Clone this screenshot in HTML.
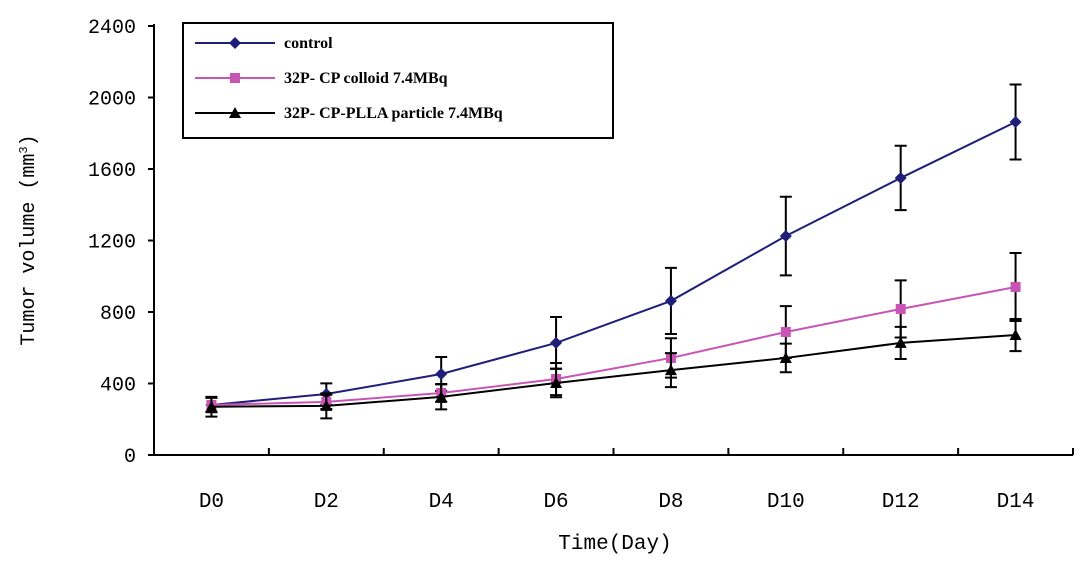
<!DOCTYPE html>
<html><head><meta charset="utf-8"><style>
body{margin:0;background:#fff}
svg text{font-family:"Liberation Mono","Noto Serif CJK SC",monospace;fill:#000}
svg text.lg{font-family:"Liberation Serif",serif;font-weight:bold}
</style></head><body>
<svg id="c" width="1087" height="567" xmlns="http://www.w3.org/2000/svg"></svg>
<script>
const categories=["D0","D2","D4","D6","D8","D10","D12","D14"];
const yTicks=[0,400,800,1200,1600,2000,2400];
const controlVals=[280,341,453,627,862,1225,1550,1863];
const controlErr=[40,60,95,145,185,220,180,210];
const colloidVals=[280,297,347,425,543,688,817,940];
const colloidErr=[40,40,50,90,110,145,160,190];
const plaVals=[270,275,325,403,475,543,627,671];
const plaErr=[55,70,70,80,95,80,90,90];
const NS="http://www.w3.org/2000/svg";
const svg=document.getElementById('c');
const X0=154,X1=1073,Y0=455,Ytop=26;
const bw=(X1-X0)/categories.length;
const xs=i=>X0+bw*(i+0.5);
const ys=v=>Y0-(v/2400)*(Y0-Ytop);
function mk(t,a,p){const e=document.createElementNS(NS,t);for(const k in a)e.setAttribute(k,a[k]);(p||svg).appendChild(e);return e;}
let ax=mk('line',{x1:X0,y1:Ytop-2,x2:X0,y2:Y0,stroke:'#000','stroke-width':2});


ax=mk('line',{x1:X0,y1:Y0,x2:X1,y2:Y0,stroke:'#000','stroke-width':2});


yTicks.forEach(v=>{
 mk('line',{x1:X0-6,y1:ys(v),x2:X0,y2:ys(v),stroke:'#000','stroke-width':2});
 const t=mk('text',{x:136,y:ys(v)+7,'text-anchor':'end','font-size':20});
 t.textContent=v;
 
 
});
for(let i=1;i<=categories.length;i++){mk('line',{x1:X0+bw*i,y1:Y0,x2:X0+bw*i,y2:Y0-7,stroke:'#000','stroke-width':2});}
categories.forEach((c,i)=>{
 const t=mk('text',{x:xs(i),y:507,'text-anchor':'middle','font-size':21});
 t.textContent=c;
 
 
});
let tt=mk('text',{x:615,y:549,'text-anchor':'middle','font-size':21});
tt.textContent='Time(Day)';


tt=mk('text',{x:0,y:0,'text-anchor':'middle','font-size':20,transform:'translate(34,240) rotate(-90)'});
tt.innerHTML='Tumor volume (mm<tspan baseline-shift="super" font-size="12">3</tspan>)';


function marker(kind,x,y,col,g){
 if(kind==='d')mk('polygon',{points:`${x},${y-6} ${x+6},${y} ${x},${y+6} ${x-6},${y}`,fill:col},g);
 else if(kind==='s')mk('rect',{x:x-5,y:y-5,width:10,height:10,fill:col},g);
 else mk('polygon',{points:`${x},${y-6} ${x+6},${y+5} ${x-6},${y+5}`,fill:col},g);
}
function series(vals,errs,col,kind,name){
 const g=mk('g',{});
 
 
 mk('polyline',{points:vals.map((v,i)=>xs(i)+','+ys(v)).join(' '),fill:'none',stroke:col,'stroke-width':2},g);
 vals.forEach((v,i)=>{
  const x=xs(i),a=ys(v+errs[i]),b=ys(v-errs[i]);
  mk('path',{d:`M${x},${a}V${b}M${x-6},${a}H${x+6}M${x-6},${b}H${x+6}`,stroke:'#000','stroke-width':2,fill:'none'},g);
  marker(kind,x,ys(v),col,g);
 });
}
series(controlVals,controlErr,'#1f1f7a','d','series-control');
series(colloidVals,colloidErr,'#c855b4','s','series-colloid');
series(plaVals,plaErr,'#000','t','series-plla');
const lg=mk('g',{});


mk('rect',{x:183,y:23,width:430,height:115,fill:'#fff',stroke:'#000','stroke-width':2},lg);
[['control','#1f1f7a','d'],['32P- CP colloid 7.4MBq','#c855b4','s'],['32P- CP-PLLA particle 7.4MBq','#000','t']].forEach((e,i)=>{
 const y=43+i*35;
 const g=mk('g',{},lg);
 
 
 mk('line',{x1:195,y1:y,x2:275,y2:y,stroke:e[1],'stroke-width':2},g);
 marker(e[2],235,y,e[1],g);
 const t=mk('text',{x:284,y:y+5,'font-size':16,'class':'lg'},g);
 t.textContent=e[0];
});
</script>
</body></html>
